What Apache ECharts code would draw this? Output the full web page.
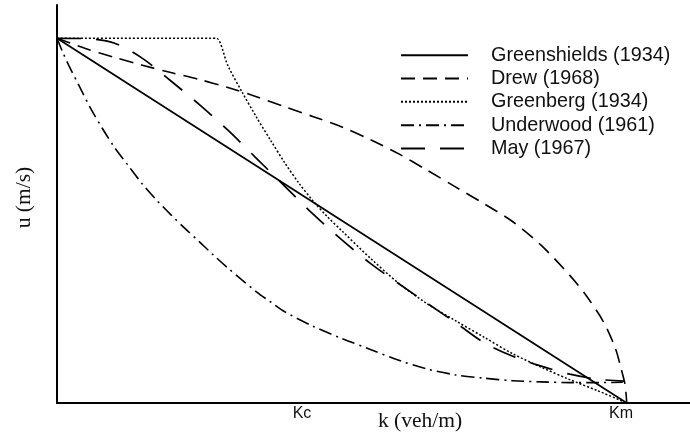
<!DOCTYPE html>
<html>
<head>
<meta charset="utf-8">
<script src="https://cdn.jsdelivr.net/npm/echarts@6/dist/echarts.min.js"></script>
<style>html,body{margin:0;padding:0;background:#fff}#c{width:690px;height:439px}</style>
</head>
<body>
<div id="c"></div>
<script>
// k normalised by jam density km, u normalised by free-flow speed uf
const seriesNames = ['Greenshields (1934)', 'Drew (1968)', 'Greenberg (1934)', 'Underwood (1961)', 'May (1967)'];

const kGreenshields = [0, 1];
const uGreenshields = [1, 0];

const kDrew = [0, 0.05, 0.10, 0.15, 0.20, 0.25, 0.30, 0.35, 0.40, 0.45, 0.50, 0.55, 0.60, 0.65, 0.70, 0.75, 0.80, 0.85, 0.90, 0.93, 0.96, 0.98, 0.99, 0.997, 1.0];
const uDrew = [1, 0.972, 0.948, 0.926, 0.906, 0.887, 0.865, 0.840, 0.812, 0.785, 0.757, 0.722, 0.683, 0.638, 0.592, 0.546, 0.497, 0.432, 0.350, 0.292, 0.220, 0.150, 0.095, 0.05, 0.0];

const kGreenberg = [0, 0.27, 0.28, 0.30, 0.325, 0.35, 0.375, 0.40, 0.425, 0.45, 0.475, 0.50, 0.55, 0.60, 0.65, 0.70, 0.75, 0.80, 0.85, 0.90, 0.95, 1.0];
const uGreenberg = [1, 1, 1, 0.925, 0.852, 0.784, 0.720, 0.658, 0.602, 0.553, 0.510, 0.472, 0.397, 0.328, 0.272, 0.225, 0.180, 0.135, 0.098, 0.064, 0.033, 0.0];

const kUnderwood = [0, 0.01, 0.02, 0.04, 0.06, 0.08, 0.10, 0.125, 0.15, 0.175, 0.20, 0.225, 0.25, 0.275, 0.30, 0.325, 0.35, 0.375, 0.40, 0.45, 0.50, 0.55, 0.60, 0.65, 0.70, 0.75, 0.80, 0.85, 0.90, 0.95, 0.993];
const uUnderwood = [1, 0.962, 0.928, 0.866, 0.805, 0.752, 0.703, 0.651, 0.600, 0.556, 0.516, 0.478, 0.442, 0.405, 0.370, 0.337, 0.305, 0.277, 0.250, 0.210, 0.177, 0.147, 0.117, 0.093, 0.077, 0.068, 0.061, 0.058, 0.056, 0.056, 0.057];

const kMay = [0, 0.05, 0.10, 0.15, 0.20, 0.25, 0.30, 0.35, 0.40, 0.45, 0.50, 0.55, 0.60, 0.65, 0.70, 0.75, 0.80, 0.85, 0.90, 0.95, 0.995];
const uMay = [1, 0.999, 0.987, 0.945, 0.883, 0.818, 0.748, 0.671, 0.594, 0.517, 0.447, 0.383, 0.327, 0.273, 0.220, 0.165, 0.128, 0.101, 0.079, 0.065, 0.060];

const xTickValues = [0.43, 0.99];
const xTickLabels = ['Kc', 'Km'];

function zip(ks, us) { return ks.map((k, i) => [k, us[i]]); }

const styles = [
  { type: 'solid', width: 1.7 },
  { type: [14, 8], width: 1.6 },
  { type: [2, 2], width: 1.5 },
  { type: [13, 5, 2, 5], width: 1.6 },
  { type: [24, 15], width: 1.7 }
];
const datasets = [
  zip(kGreenshields, uGreenshields),
  zip(kDrew, uDrew),
  zip(kGreenberg, uGreenberg),
  zip(kUnderwood, uUnderwood),
  zip(kMay, uMay)
];
const smoothing = [false, 0.3, 0.3, 0.3, 0.3];

const chart = echarts.init(document.getElementById('c'), null, { renderer: 'canvas' });
chart.setOption({
  animation: false,
  backgroundColor: '#fff',
  grid: { left: 57, right: 0, top: 5, bottom: 36, outerBoundsMode: 'none', containLabel: false },
  xAxis: {
    type: 'value', min: 0, max: 1.111,
    axisLine: { show: true, lineStyle: { color: '#000', width: 2 } },
    axisTick: { show: false },
    splitLine: { show: false },
    axisLabel: {
      show: true,
      customValues: xTickValues,
      margin: 3,
      formatter: v => { const i = xTickValues.indexOf(v); return i >= 0 ? xTickLabels[i] : ''; },
      color: '#111', fontSize: 16, fontFamily: 'Liberation Sans, Arial, sans-serif'
    }
  },
  yAxis: {
    type: 'value', min: 0, max: 1.0913,
    axisLine: { show: true, lineStyle: { color: '#000', width: 2 } },
    axisTick: { show: false },
    splitLine: { show: false },
    axisLabel: { show: false }
  },
  legend: {
    orient: 'vertical', left: 395, top: 38.6,
    itemWidth: 67, itemHeight: 14, itemGap: 0,
    selectedMode: false,
    data: seriesNames,
    itemStyle: { color: 'transparent', borderWidth: 0, opacity: 0 },
    textStyle: { fontSize: 19.8, lineHeight: 23.3, color: '#111', fontFamily: 'Liberation Sans, Arial, sans-serif', padding: [0, 0, 0, 18] }
  },
  graphic: [
    { type: 'text', x: 24, y: 197.5, rotation: Math.PI / 2,
      style: { text: 'u (m/s)', fontSize: 21.5, fontFamily: 'Liberation Serif, Times New Roman, serif', fill: '#111', textAlign: 'center', textVerticalAlign: 'middle' } },
    { type: 'text', x: 420, y: 421,
      style: { text: 'k (veh/m)', fontSize: 21.5, fontFamily: 'Liberation Serif, Times New Roman, serif', fill: '#111', textAlign: 'center', textVerticalAlign: 'middle' } }
  ],
  series: seriesNames.map((name, i) => ({
    name, type: 'line', data: datasets[i], symbol: 'none', showSymbol: false,
    smooth: smoothing[i],
    lineStyle: { color: '#000', width: styles[i].width, type: styles[i].type },
    itemStyle: { color: '#000' },
    z: 2
  }))
});
</script>
</body>
</html>
